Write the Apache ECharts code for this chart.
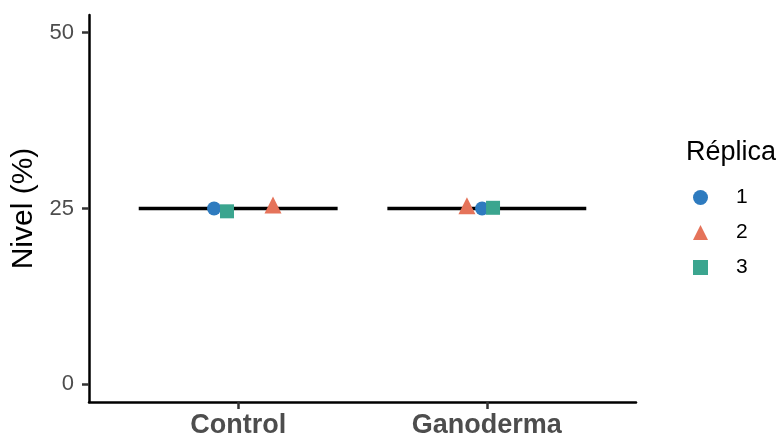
<!DOCTYPE html>
<html>
<head>
<meta charset="utf-8">
<script src="https://cdn.jsdelivr.net/npm/echarts@6/dist/echarts.min.js"></script>
<style>
html,body{margin:0;padding:0;background:#fff;}
#chart{width:781px;height:441px;}
</style>
</head>
<body>
<div id="chart"></div>
<script>
// ---- data ----
var categories = ['Control', 'Ganoderma'];
var replicas = ['1', '2', '3'];
var rep1Values = [25.0, 25.0];
var rep2Values = [25.5, 25.4];
var rep3Values = [24.6, 25.1];
// horizontal jitter (in category units)
var rep1Jitter = [-0.097, -0.019];
var rep2Jitter = [0.140, -0.080];
var rep3Jitter = [-0.045, 0.025];
var meanValues = [25, 25];
var yTicks = [0, 25, 50];

var repValues = [rep1Values, rep2Values, rep3Values];
var repJitter = [rep1Jitter, rep2Jitter, rep3Jitter];
var symbols = ['circle', 'triangle', 'rect'];
var sizes = [14, 17, 14];
var colors = ['#2E7BBF', '#E5735A', '#3BA58F'];

var chart = echarts.init(document.getElementById('chart'));

var series = [{
  type: 'custom',
  name: 'mean',
  z: 1,
  silent: true,
  data: meanValues.map(function (m, i) { return [i + 1, m]; }),
  renderItem: function (params, api) {
    var x = api.value(0), y = api.value(1);
    var p1 = api.coord([x - 0.4, y]);
    var p2 = api.coord([x + 0.4, y]);
    return {
      type: 'line',
      shape: { x1: p1[0], y1: p1[1], x2: p2[0], y2: p2[1] },
      style: { stroke: '#000', lineWidth: 3.5 }
    };
  }
}];

replicas.forEach(function (r, k) {
  series.push({
    type: 'scatter',
    name: r,
    z: 3 + k,
    symbol: symbols[k],
    symbolSize: sizes[k],
    symbolKeepAspect: true,
    itemStyle: { color: colors[k], opacity: 1 },
    data: categories.map(function (c, i) {
      return [i + 1 + repJitter[k][i], repValues[k][i]];
    })
  });
});

chart.setOption({
  animation: false,
  backgroundColor: '#fff',
  title: {
    text: 'Réplica',
    left: 681,
    top: 134,
    textStyle: { fontSize: 27, fontWeight: 'normal', color: '#000', fontFamily: 'Liberation Sans' }
  },
  legend: {
    orient: 'vertical',
    left: 688,
    top: 182,
    itemWidth: 15,
    itemHeight: 15,
    itemGap: 14,
    data: replicas.map(function (r, k) {
      return { name: r, icon: symbols[k] };
    }),
    textStyle: { fontSize: 21, color: '#000', fontFamily: 'Liberation Sans', padding: [0, 0, 0, 23] }
  },
  grid: { left: 89, right: 145, top: 15, bottom: 39 },
  xAxis: {
    type: 'value',
    min: 0.4,
    max: 2.6,
    splitLine: { show: false },
    axisLine: { onZero: false, lineStyle: { color: '#000', width: 2.5 } },
    axisTick: { show: true, customValues: [1, 2], length: 7, lineStyle: { color: '#333', width: 2.5 } },
    axisLabel: {
      customValues: [1, 2],
      formatter: function (v) { return categories[Math.round(v) - 1]; },
      fontSize: 27,
      fontWeight: 'bold',
      color: '#4d4d4d',
      margin: 10,
      fontFamily: 'Liberation Sans'
    }
  },
  yAxis: {
    type: 'value',
    min: -2.5,
    max: 52.5,
    name: 'Nivel (%)',
    nameLocation: 'middle',
    nameGap: 48,
    nameTextStyle: { fontSize: 30, color: '#000', fontFamily: 'Liberation Sans' },
    splitLine: { show: false },
    axisLine: { show: true, onZero: false, lineStyle: { color: '#000', width: 2.5 } },
    axisTick: { show: true, customValues: yTicks, length: 7, lineStyle: { color: '#333', width: 2.5 } },
    axisLabel: {
      customValues: yTicks,
      fontSize: 22,
      color: '#4d4d4d',
      margin: 15,
      fontFamily: 'Liberation Sans'
    }
  },
  series: series
});
</script>
</body>
</html>
